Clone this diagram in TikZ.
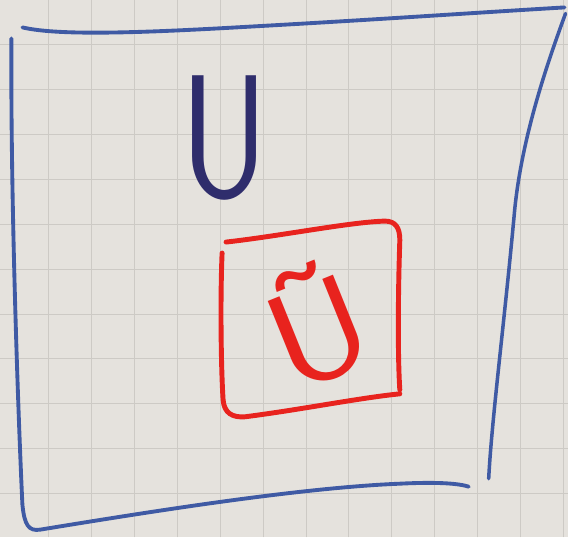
\documentclass[tikz,border=0pt]{standalone}
\usepackage{tikz}
\definecolor{paper}{HTML}{E5E2DD}
\definecolor{gridgray}{HTML}{CDCAC5}
\definecolor{markerblue}{HTML}{3F5AA4}
\definecolor{inkblue}{HTML}{2F2D6C}
\definecolor{markerred}{HTML}{E8231E}

\begin{document}
\begin{tikzpicture}[x=0.2mm,y=-0.2mm,line cap=round,line join=round]
  % paper and grid
  \fill[paper] (0,0) rectangle (568,537);
  \foreach \gx in {48,91,...,565} \draw[gridgray,line width=0.5pt] (\gx,0) -- (\gx,537);
  \foreach \gy in {44,89,...,537} \draw[gridgray,line width=0.5pt] (0,\gy) -- (568,\gy);
  % outer set
  \draw[markerblue,line width=2.2pt] (22,27) .. controls (60,36) and (150,32) .. (254,26) .. controls (380,19) and (480,12) .. (565,7);
  \draw[markerblue,line width=2pt] (566,13) .. controls (545,70) and (522,140) .. (515,210) .. controls (505,320) and (492,420) .. (489,479);
  \draw[markerblue,line width=2.2pt] (11,38) .. controls (10,200) and (18,420) .. (22,505) .. controls (24,525) and (28,532) .. (40,530) .. controls (150,512) and (300,488) .. (400,484) .. controls (440,482) and (460,484) .. (469,487);
  \node[inkblue,font=\fontsize{100}{100}\selectfont\sffamily,xscale=0.78] (univ) at (224,138) {U};
  % inner set
  \draw[markerred,line width=2.8pt] (226,242) .. controls (280,236) and (350,222) .. (385,221) .. controls (396,221) and (400,228) .. (400,240) .. controls (398,300) and (398,360) .. (400,390);
  \draw[markerred,line width=2.8pt] (222,253) .. controls (220,300) and (221,370) .. (223,400) .. controls (224,413) and (232,418) .. (245,417) .. controls (300,410) and (360,398) .. (400,394);
  \node[markerred,font=\fontsize{78}{78}\selectfont\sffamily,rotate=22,xscale=1.1] (sub) at (315,324) {\~{U}};
\end{tikzpicture}
\end{document}
